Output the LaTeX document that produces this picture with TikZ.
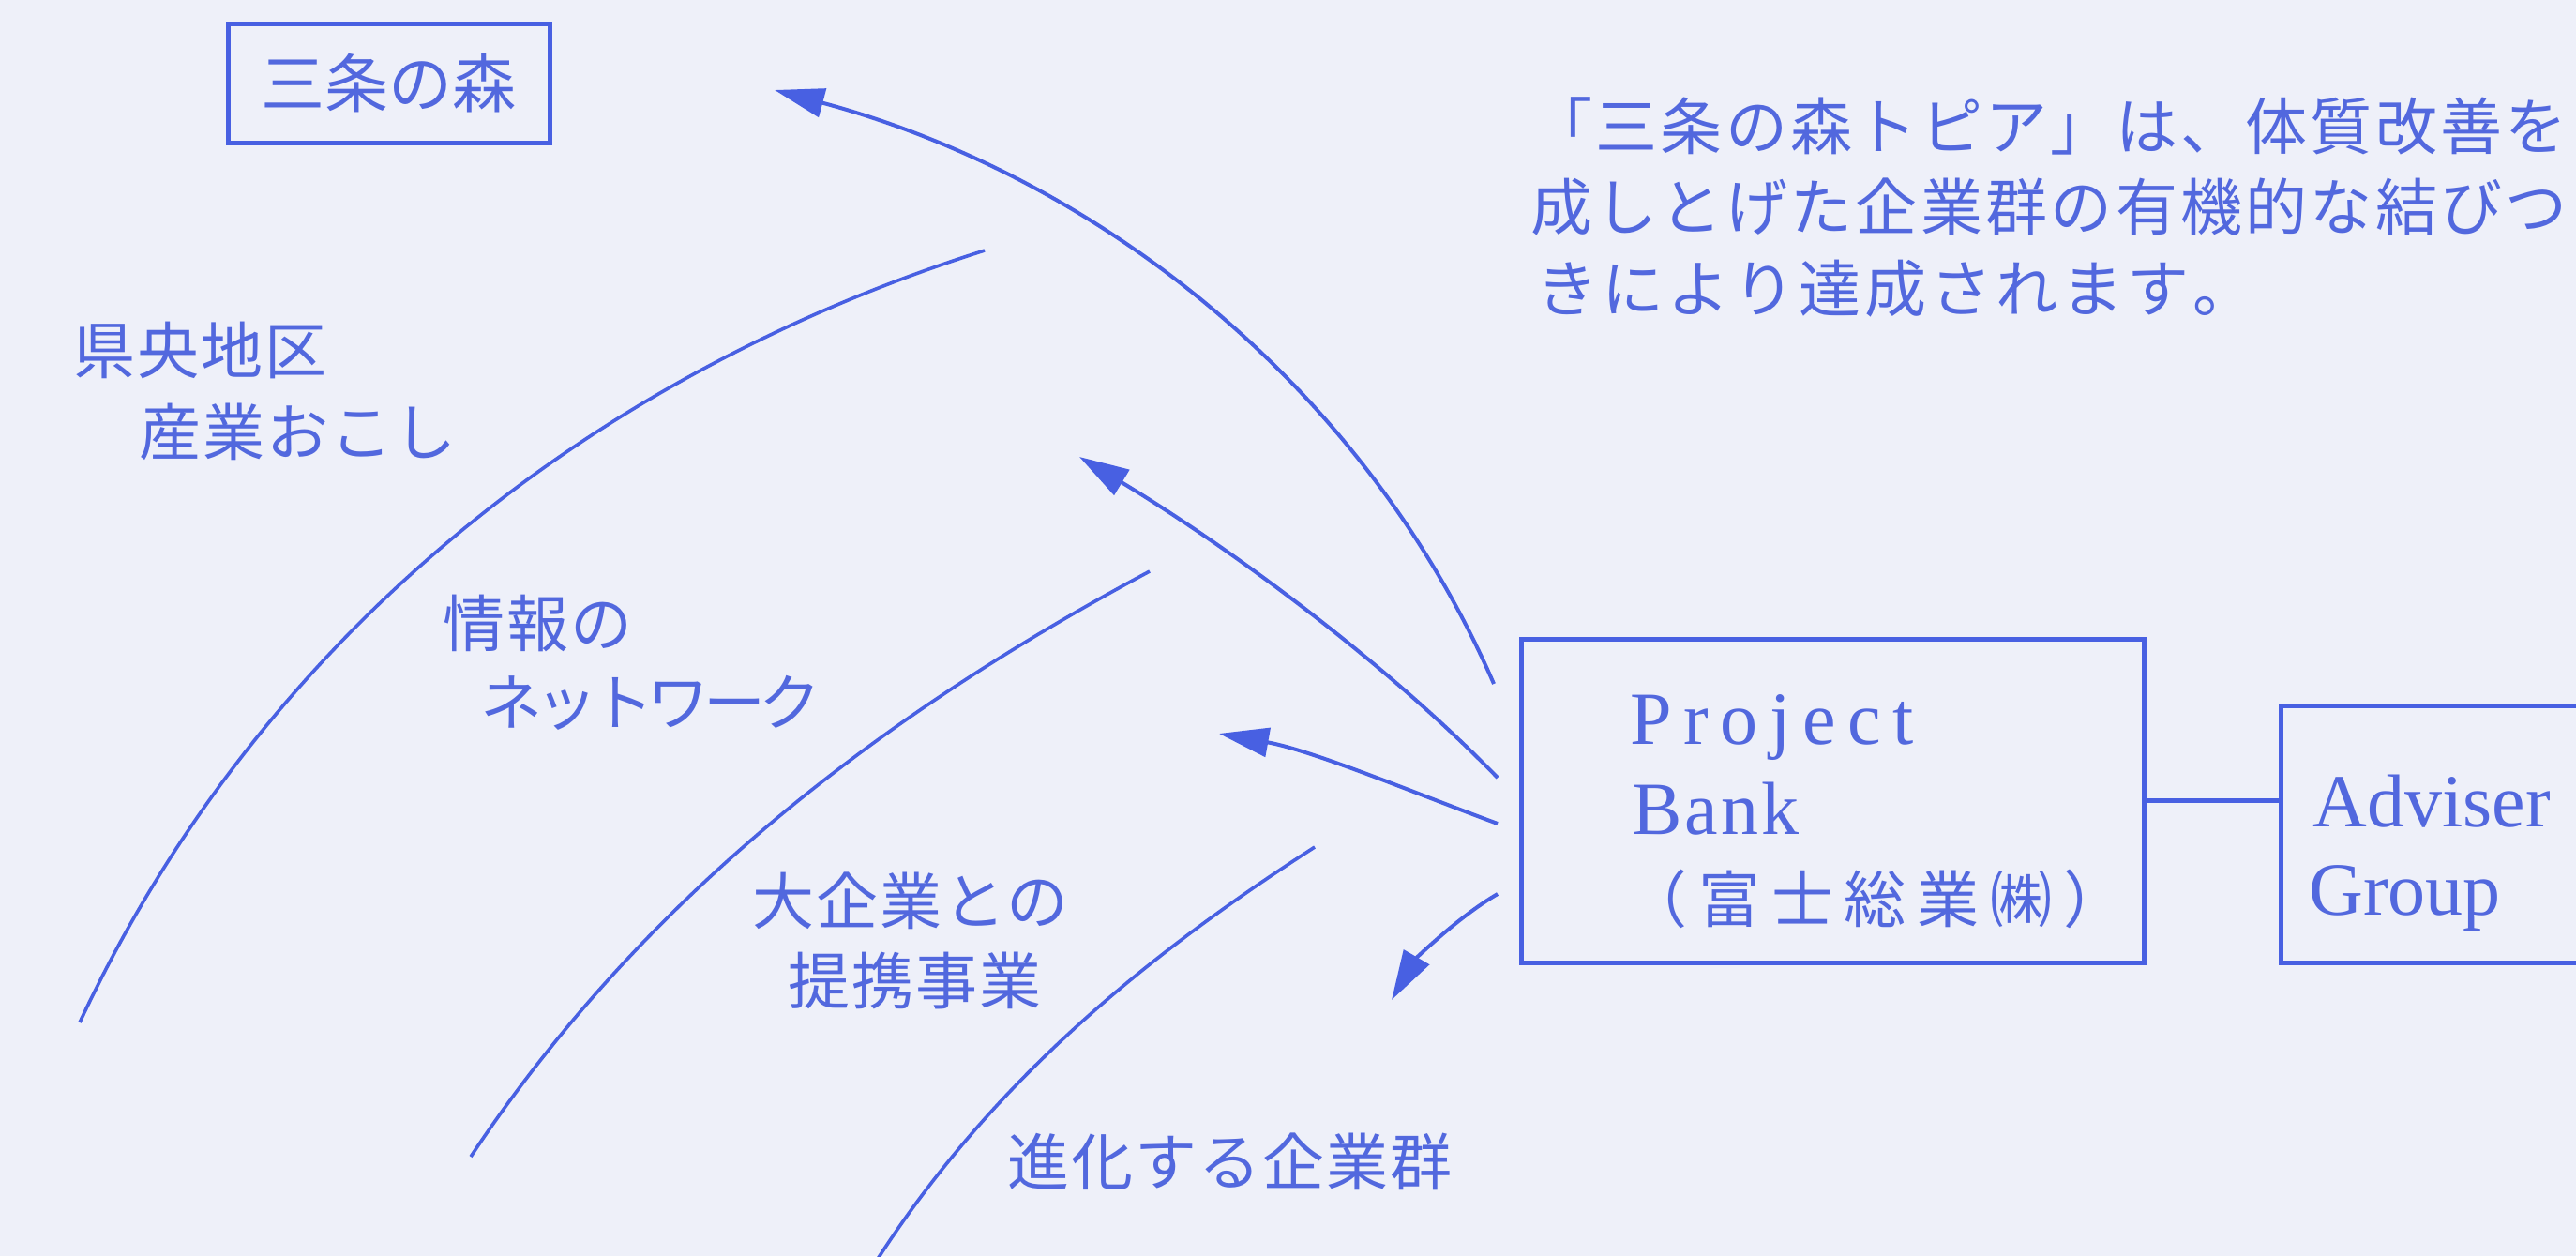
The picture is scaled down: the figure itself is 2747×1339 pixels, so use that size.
\documentclass[tikz,border=0pt]{standalone}
\usepackage{fontspec}
\usetikzlibrary{arrows.meta}
\newfontfamily\jpA[LetterSpace=3]{Noto Sans CJK JP}
\newfontfamily\jpC[LetterSpace=18]{Noto Sans CJK JP}
\newfontfamily\jpN[LetterSpace=-10]{Noto Sans CJK JP}
\newfontfamily\jpM{Noto Sans CJK JP}
\newfontfamily\lsP[LetterSpace=15.7]{Liberation Serif}
\newfontfamily\lsB[LetterSpace=3.8]{Liberation Serif}
\newfontfamily\lsN{Liberation Serif}
\definecolor{bgc}{RGB}{238,240,249}
\definecolor{ln}{RGB}{72,96,226}
\definecolor{txt}{RGB}{82,104,222}
% fixed character pitch
\newcommand\pitchline[2]{\def\mypitchval{#1}\mypitchaux#2\relax}
\def\mypitchaux#1{\ifx\relax#1\else\makebox[\mypitchval][l]{#1}\expandafter\mypitchaux\fi}
\begin{document}
\begin{tikzpicture}[x=0.5pt,y=-0.5pt,
  lbl/.style={anchor=west,inner sep=0pt,text=txt,font={\jpA\fontsize{33pt}{40pt}\selectfont}},
  para/.style={anchor=west,inner sep=0pt,text=txt,font={\jpM\fontsize{33pt}{40pt}\selectfont}},
  latin/.style={anchor=base west,inner sep=0pt,text=txt},
  boxnode/.style={draw=ln,line width=2.5pt,inner sep=0pt},
  arr/.style={draw=ln,line width=2pt,-{Triangle[length=26.5pt,width=15.5pt]}},
  arcline/.style={draw=ln,line width=1.8pt},
  link/.style={draw=ln,line width=2.6pt}]
\useasboundingbox (0,0) rectangle (2747,1339);
\fill[bgc] (0,0) rectangle (2747,1339);
\clip (0,0) rectangle (2747,1339);

% boxes
\node[boxnode,minimum width=171.5pt,minimum height=63.5pt,text=txt,
      font={\jpM\fontsize{34pt}{40pt}\selectfont}] (SM) at (414.5,88.5) {三条の森};
\node[boxnode,minimum width=332pt,minimum height=172.5pt] (PB) at (1954,853.5) {};
\node[boxnode,minimum width=171.5pt,minimum height=137pt] (AG) at (2603.5,889) {};

% texts in boxes
\node[latin,font={\lsP\fontsize{40pt}{48pt}\selectfont}] (pbt1) at (1738,793) {Project};
\node[latin,font={\lsB\fontsize{40pt}{48pt}\selectfont}] (pbt2) at (1740,889) {Bank};
\node[anchor=west,inner sep=0pt,text=txt,font={\jpC\fontsize{33pt}{40pt}\selectfont}] (pbt3) at (1733,958) {（富士総業㈱）};
\node[latin,font={\lsN\fontsize{40pt}{48pt}\selectfont}] (agt1) at (2466,881) {Adviser};
\node[latin,font={\lsN\fontsize{40pt}{48pt}\selectfont}] (agt2) at (2462,975) {Group};

\draw[link] (PB.east) -- (PB.east -| AG.west);

% paragraph
\node[para] (p1) at (1632,134) {\pitchline{34.65pt}{「三条の森トピア」は、体質改善を}};
\node[para] (p2) at (1632,221) {\pitchline{34.65pt}{成しとげた企業群の有機的な結びつ}};
\node[para] (p3) at (1638,308) {\pitchline{35pt}{きにより達成されます。}};

% labels
\node[lbl] (l1) at (78,373) {県央地区};
\node[lbl] (l2) at (148,460) {産業おこし};
\node[lbl] (l3) at (472,664) {情報の};
\node[lbl,font={\jpN\fontsize{33pt}{40pt}\selectfont}] (l4) at (512,749) {ネットワーク};
\node[lbl] (l5) at (802,960) {大企業との};
\node[lbl] (l6) at (840,1045) {提携事業};
\node[lbl] (l7) at (1074,1238) {進化する企業群};

% arcs
\coordinate (c1s) at (1050,267); \coordinate (c1e) at (85,1090);
\draw[arcline] (c1s) .. controls (623,402) and (274,685) .. (c1e);
\coordinate (c2s) at (1226,609); \coordinate (c2e) at (502,1233);
\draw[arcline] (c2s) .. controls (936,764) and (684,959) .. (c2e);
\coordinate (c3s) at (1402,903); \coordinate (c3e) at (936,1342);
\draw[arcline] (c3s) .. controls (1217,1022) and (1056,1156) .. (c3e);

% arrows from Project Bank
\coordinate (a1s) at (1593,729); \coordinate (a1e) at (826,96);
\draw[arr] (a1s) .. controls (1453,407) and (1166,187) .. (a1e);
\coordinate (a2s) at (1597,829); \coordinate (a2e) at (1151,487);
\draw[arr] (a2s) .. controls (1471,700) and (1305,580) .. (a2e);
\coordinate (a3s) at (1597,878); \coordinate (a3e) at (1300,782);
\draw[arr] (a3s) .. controls (1510,846) and (1400,800) .. (a3e);
\coordinate (a4s) at (1597,953); \coordinate (a4e) at (1484,1066);
\draw[arr] (a4s) .. controls (1554,978) and (1509,1023) .. (a4e);
\end{tikzpicture}
\end{document}
